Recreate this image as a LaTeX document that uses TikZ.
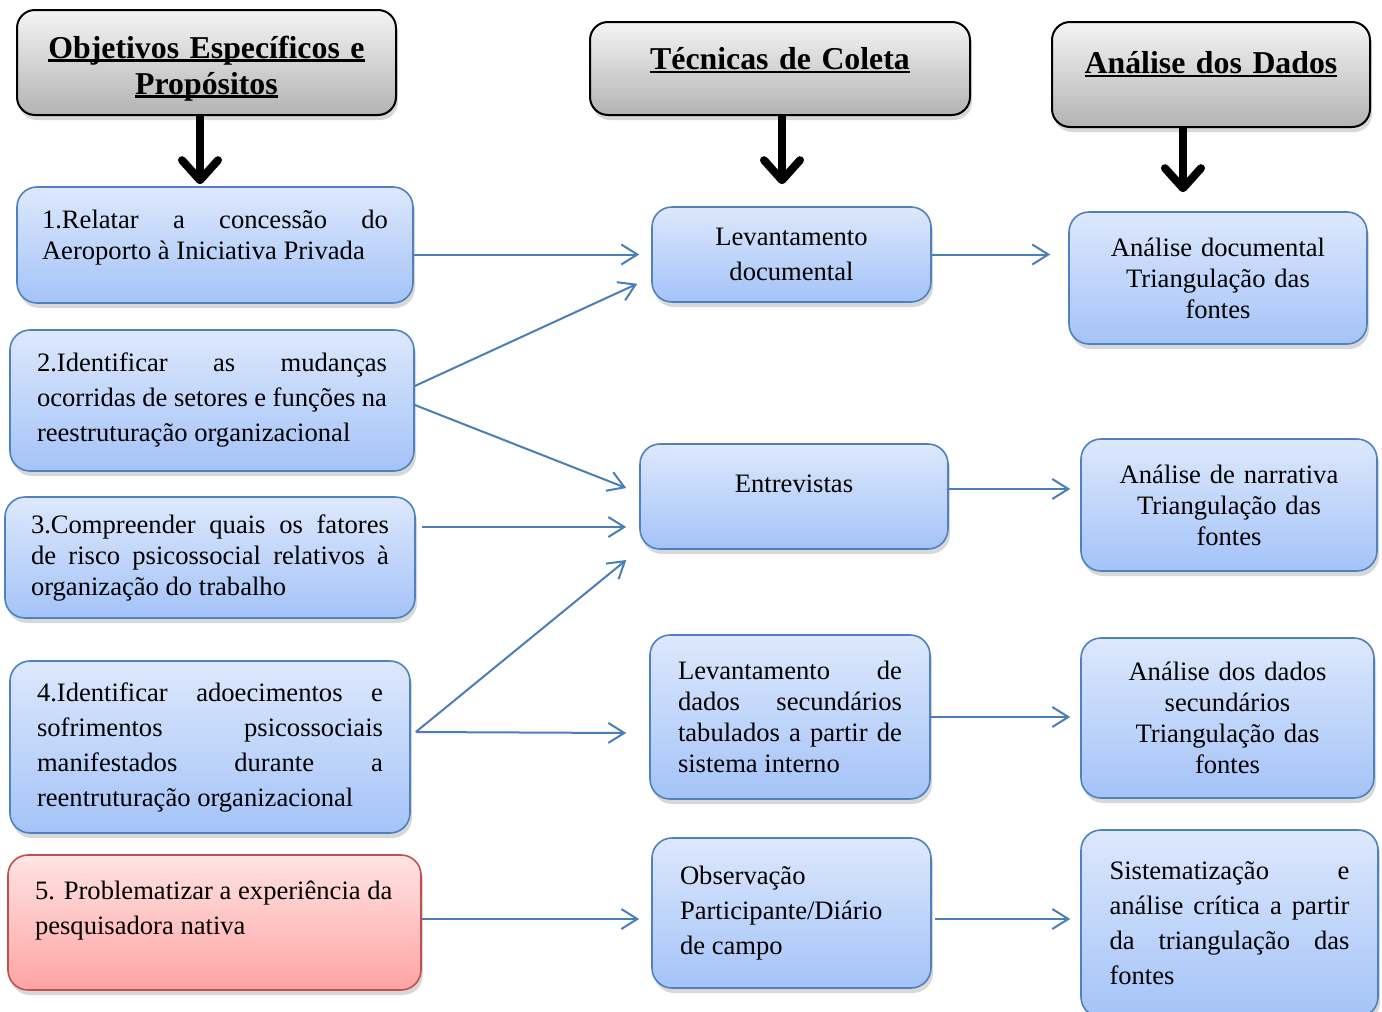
\documentclass[tikz,border=0pt]{standalone}
\usepackage{fontspec}
\setmainfont{Liberation Serif}
\usetikzlibrary{arrows.meta,positioning,calc,shadows}
\definecolor{boxline}{HTML}{4F81BD}
\definecolor{bluetop}{HTML}{DDE8FC}
\definecolor{bluebot}{HTML}{A4C3F8}
\definecolor{redline}{HTML}{C0504D}
\definecolor{redtop}{HTML}{FFE4E4}
\definecolor{redbot}{HTML}{FFA3A3}
\definecolor{headtop}{HTML}{F4F4F4}
\definecolor{headbot}{HTML}{B3B3B3}
\definecolor{linkblue}{HTML}{4A7EBB}
\newcommand\bodyfont{\fontsize{26.6pt}{31pt}\selectfont}
\newcommand\loosefont{\fontsize{26.6pt}{35pt}\selectfont}
\newcommand\headfont{\fontsize{31.8pt}{36pt}\selectfont\bfseries}
\newcommand\ulhead[1]{\leavevmode\setbox0\hbox{#1}\rlap{\rule[-3.5pt]{\wd0}{2.2pt}}\box0}
\newcommand\lift[1]{\rule[-#1]{0pt}{#1}}
\hyphenpenalty=10000

\begin{document}
\begin{tikzpicture}[x=1pt,y=-1pt,
  obj/.style={draw=boxline,line width=1.6pt,rounded corners=20pt,top color=bluetop,bottom color=bluebot,
    drop shadow={shadow xshift=2pt,shadow yshift=-5pt,opacity=.3},inner sep=0pt,font=\bodyfont},
  redobj/.style={obj,draw=redline,top color=redtop,bottom color=redbot},
  head/.style={draw=black,line width=2pt,rounded corners=18pt,top color=headtop,bottom color=headbot,
    drop shadow={shadow xshift=2pt,shadow yshift=-5pt,opacity=.3},inner sep=0pt,font=\headfont,align=center},
  link/.style={draw=linkblue,line width=2pt,-{Straight Barb[length=16pt,width=20pt]}},
  down/.style={line width=8pt,-{Straight Barb[length=20pt,width=36pt,round]}}]
  \useasboundingbox[fill=white] (0,0) rectangle (1382,1012);

  % headers
  \node[head,minimum width=379pt,minimum height=105pt,text width=370pt] (h1) at (206.5,62.5)
    {\rule{0pt}{34pt}\ulhead{Objetivos Específicos e}\par\ulhead{Propósitos}};
  \node[head,minimum width=380pt,minimum height=93pt,text width=370pt] (h2) at (780,68.5)
    {\ulhead{Técnicas de Coleta}\lift{20pt}};
  \node[head,minimum width=318pt,minimum height=105pt,text width=310pt] (h3) at (1211,74.5)
    {\ulhead{Análise dos Dados}\lift{24pt}};

  % objetivos
  \node[obj,minimum width=396pt,minimum height=116pt,text width=346pt,align=justify] (b1) at (215,245)
    {1.Relatar a concessão do\linebreak Aeroporto à Iniciativa Privada\lift{20pt}};
  \node[obj,font=\loosefont,minimum width=404pt,minimum height=141pt,text width=350pt,align=justify] (b2) at (212,400.5)
    {2.Identificar as mudanças\linebreak ocorridas de setores e funções na\linebreak reestruturação organizacional};
  \node[obj,minimum width=410pt,minimum height=121pt,text width=358pt,align=justify] (b3) at (210,557.5)
    {3.Compreender quais os fatores\linebreak de risco psicossocial relativos à\linebreak organização do trabalho};
  \node[obj,font=\loosefont,minimum width=400pt,minimum height=172pt,text width=346pt,align=justify] (b4) at (210,747)
    {4.Identificar adoecimentos e\linebreak sofrimentos psicossociais\linebreak manifestados durante a\linebreak reentruturação organizacional};
  \node[redobj,font=\loosefont,minimum width=413pt,minimum height=135pt,text width=359pt,align=flush left] (b5) at (214.5,922.5)
    {5. Problematizar a experiência da\\pesquisadora nativa\lift{29pt}};

  % tecnicas
  \node[obj,font=\loosefont,minimum width=279pt,minimum height=95pt,text width=250pt,align=center] (m1) at (791.5,254.5)
    {Levantamento\\documental};
  \node[obj,minimum width=308pt,minimum height=105pt,text width=280pt,align=center] (m2) at (794,496.5)
    {Entrevistas\lift{25pt}};
  \node[obj,minimum width=280pt,minimum height=164pt,text width=224pt,align=justify] (m3) at (790,717)
    {Levantamento de\linebreak dados secundários\linebreak tabulados a partir de\linebreak sistema interno};
  \node[obj,font=\loosefont,minimum width=279pt,minimum height=150pt,text width=223pt,align=flush left] (m4) at (791.5,913)
    {Observação\\Participante/Diário\\de campo};

  % analise
  \node[obj,minimum width=298pt,minimum height=132pt,text width=270pt,align=center] (r1) at (1218,278)
    {Análise documental\\Triangulação das\\fontes};
  \node[obj,minimum width=296pt,minimum height=132pt,text width=270pt,align=center] (r2) at (1229,505)
    {Análise de narrativa\\Triangulação das\\fontes};
  \node[obj,minimum width=293pt,minimum height=160pt,text width=270pt,align=center] (r3) at (1227.5,718)
    {Análise dos dados\\secundários\\Triangulação das\\fontes};
  \node[obj,font=\loosefont,minimum width=297pt,minimum height=187pt,text width=240pt,align=justify] (r4) at (1229.5,923.5)
    {Sistematização e\linebreak análise crítica a partir\linebreak da triangulação das\linebreak fontes};

  % setas
  \draw[down,shorten >=2pt] ([xshift=-6.5pt]h1.south) -- ([xshift=-6.5pt]h1.south |- b1.north);
  \draw[down,shorten >=22pt] ([xshift=2pt]h2.south) -- ([xshift=2pt]h2.south |- m1.north);
  \draw[down,shorten >=19pt] ([xshift=-28pt]h3.south) -- ([xshift=-28pt]h3.south |- r1.north);

  \draw[link,shorten >=12pt] (b1.east |- m1.west) -- (m1.west);
  \draw[link] ($(b2.east)+(0,-14.5)$) -- ($(m1.south west)+(-14,-19)$);
  \draw[link] ($(b2.east)+(0,4.5)$) -- ($(m2.west)+(-13,-8.5)$);
  \draw[link] ($(b3.east)+(6,-30.5)$) -- ($(m2.west)+(-13,30.5)$);
  \draw[link] ($(b4.east)+(5,-15)$) -- ($(m2.west)+(-13,63.5)$);
  \draw[link] ($(b4.east)+(5,-15)$) -- ($(m3.west)+(-23,16)$);
  \draw[link] ($(b5.east)+(0,-3.5)$) -- ($(m4.west)+(-12,6)$);
  \draw[link,shorten >=18pt] (m1.east) -- (m1.east -| r1.west);
  \draw[link] ($(m2.east)+(0,-7.5)$) -- ($(r2.west)+(-10,-16)$);
  \draw[link,shorten >=10pt] (m3.east) -- (m3.east -| r3.west);
  \draw[link] ($(m4.east)+(3,6)$) -- ($(r4.west)+(-10,-4.5)$);
\end{tikzpicture}
\end{document}
